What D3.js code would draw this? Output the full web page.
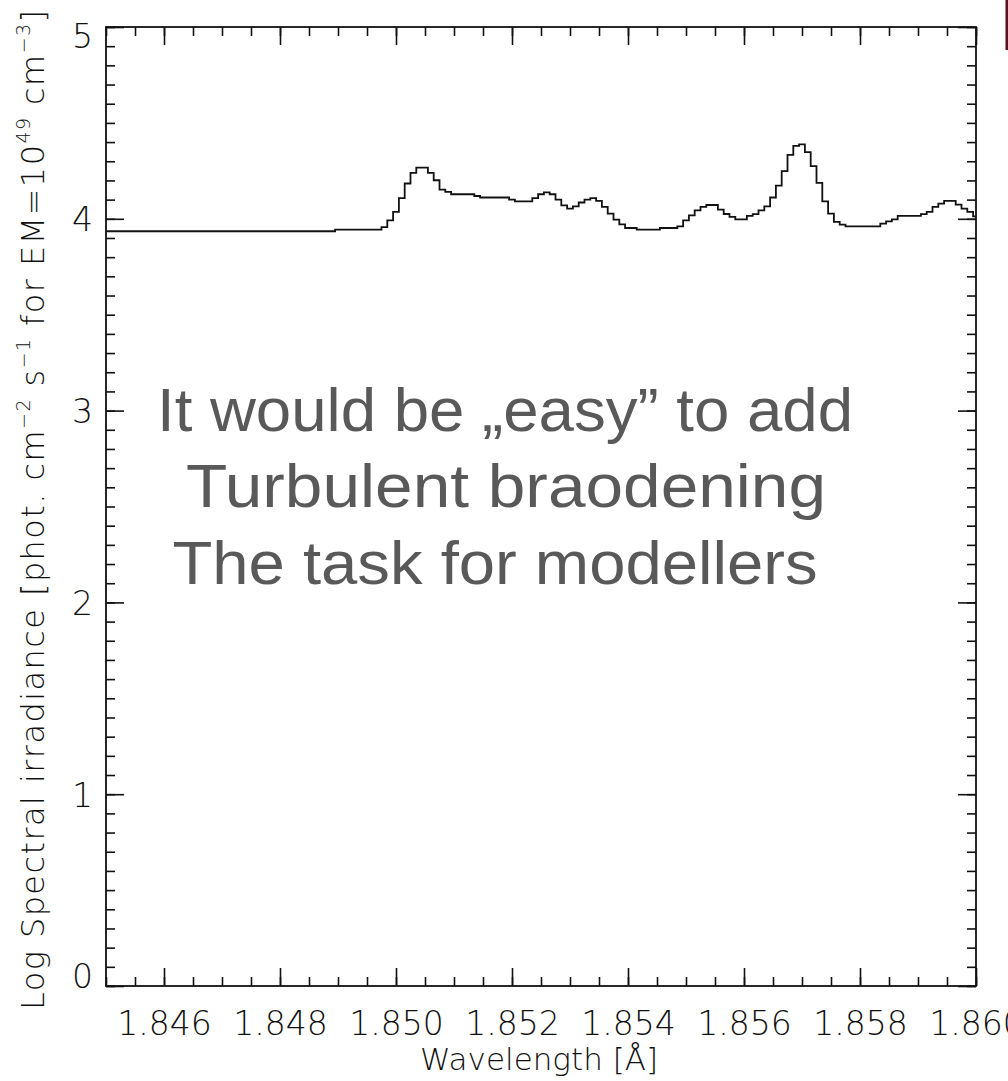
<!DOCTYPE html>
<html>
<head>
<meta charset="utf-8">
<script src="https://cdn.jsdelivr.net/npm/d3@7"></script>
<style>
  html, body { margin: 0; padding: 0; background: #fff; overflow: hidden; }
  .ax text { font-family: "DejaVu Sans", sans-serif; font-weight: 200; fill: #111; }
</style>
</head>
<body>
<div id="container"></div>
<script>
/* CONSTANTS AND GLOBALS */
const width = 1008,
  height = 1081,
  margin = { top: 27, right: 32, bottom: 95, left: 106 };

/* DATA: step spectrum, wavelength where each level starts [Å] and log irradiance */
const wavelength = [
  1.84500, 1.84895, 1.84975, 1.84985, 1.84995, 1.85005, 1.85015, 1.85025, 1.85035, 1.85055,
  1.85065, 1.85075, 1.85085, 1.85095, 1.85135, 1.85145, 1.85195, 1.85205, 1.85235, 1.85245,
  1.85255, 1.85265, 1.85275, 1.85285, 1.85295, 1.85305, 1.85315, 1.85325, 1.85335, 1.85345,
  1.85355, 1.85365, 1.85375, 1.85385, 1.85395, 1.85415, 1.85455, 1.85485, 1.85495, 1.85505,
  1.85515, 1.85525, 1.85535, 1.85555, 1.85565, 1.85575, 1.85585, 1.85605, 1.85615, 1.85625,
  1.85635, 1.85645, 1.85655, 1.85665, 1.85675, 1.85685, 1.85695, 1.85705, 1.85715, 1.85725,
  1.85735, 1.85745, 1.85755, 1.85765, 1.85775, 1.85835, 1.85845, 1.85855, 1.85865, 1.85905,
  1.85915, 1.85925, 1.85935, 1.85945, 1.85965, 1.85975, 1.85985, 1.85995
];
const logIrradiance = [
  3.935, 3.944, 3.957, 3.992, 4.036, 4.108, 4.184, 4.239, 4.267, 4.239,
  4.201, 4.152, 4.140, 4.128, 4.119, 4.111, 4.100, 4.091, 4.108, 4.128,
  4.138, 4.128, 4.100, 4.070, 4.053, 4.065, 4.085, 4.100, 4.108, 4.093,
  4.062, 4.027, 3.996, 3.971, 3.952, 3.944, 3.952, 3.960, 3.992, 4.018,
  4.044, 4.062, 4.072, 4.048, 4.025, 4.010, 3.997, 4.015, 4.024, 4.044,
  4.065, 4.111, 4.173, 4.249, 4.333, 4.380, 4.388, 4.348, 4.275, 4.187,
  4.091, 4.027, 3.984, 3.970, 3.961, 3.975, 3.987, 3.997, 4.015, 4.024,
  4.036, 4.062, 4.079, 4.093, 4.074, 4.053, 4.036, 4.013
];
const xDomain = [1.845, 1.860];
const yDomain = [0, 5];
const xMajorTicks = [1.846, 1.848, 1.850, 1.852, 1.854, 1.856, 1.858, 1.860];
const yMajorTicks = [0, 1, 2, 3, 4, 5];
const noteLines = ["It would be \u201Eeasy\u201D to add", "Turbulent braodening", "The task for modellers"];

const svg = d3.select("#container")
  .append("svg")
  .attr("width", width)
  .attr("height", height);

/* SCALES */
const xScale = d3.scaleLinear()
  .domain(xDomain)
  .range([margin.left, width - margin.right]);
const yScale = d3.scaleLinear()
  .domain(yDomain)
  .range([height - margin.bottom, margin.top]);

const x0 = xScale.range()[0], x1 = xScale.range()[1];
const y0 = yScale.range()[0], y1 = yScale.range()[1];

const xMinor = d3.range(0, 31).map(i => 1.845 + i * 0.0005);
const yMinor = d3.range(0, 51).map(i => i * 0.1);

/* AXES: ticks on all four sides, pointing inward */
const addAxis = (axis, tr, cls) => svg.append("g")
  .attr("class", "ax " + cls)
  .attr("transform", tr)
  .call(axis)
  .call(g => g.select(".domain").remove())
  .call(g => g.selectAll("line").attr("stroke", "#111").attr("stroke-width", 1.6));

addAxis(d3.axisBottom(xScale).tickValues(xMinor).tickSize(-9).tickFormat(""), `translate(0,${y0})`, "xb-minor");
addAxis(d3.axisTop(xScale).tickValues(xMinor).tickSize(-9).tickFormat(""), `translate(0,${y1})`, "xt-minor");
addAxis(d3.axisLeft(yScale).tickValues(yMinor).tickSize(-9).tickFormat(""), `translate(${x0},0)`, "yl-minor");
addAxis(d3.axisRight(yScale).tickValues(yMinor).tickSize(-9).tickFormat(""), `translate(${x1},0)`, "yr-minor");

const xb = addAxis(d3.axisBottom(xScale).tickValues(xMajorTicks).tickSize(-18).tickPadding(22)
  .tickFormat(d3.format(".3f")), `translate(0,${y0})`, "xb");
xb.selectAll("text").attr("font-size", 33).attr("dy", "0.71em")
  .attr("transform", "translate(0,4)");
addAxis(d3.axisTop(xScale).tickValues(xMajorTicks).tickSize(-18).tickFormat(""), `translate(0,${y1})`, "xt");

const yl = addAxis(d3.axisLeft(yScale).tickValues(yMajorTicks).tickSize(-18).tickPadding(13)
  .tickFormat(d3.format("d")), `translate(${x0},0)`, "yl");
yl.selectAll("text").attr("font-size", 33)
  .attr("dy", d => d === 5 ? "0.62em" : d === 0 ? "0.05em" : "0.36em");
addAxis(d3.axisRight(yScale).tickValues(yMajorTicks).tickSize(-18).tickFormat(""), `translate(${x1},0)`, "yr");

/* FRAME */
svg.append("rect")
  .attr("x", x0).attr("y", y1)
  .attr("width", x1 - x0).attr("height", y0 - y1)
  .attr("fill", "none").attr("stroke", "#111").attr("stroke-width", 1.8);

/* SPECTRUM (histogram steps) */
const pts = wavelength.map((w, i) => [w, logIrradiance[i]]);
pts.push([xDomain[1], logIrradiance[logIrradiance.length - 1]]);

svg.append("path")
  .datum(pts)
  .attr("fill", "none")
  .attr("stroke", "#111")
  .attr("stroke-width", 1.8)
  .attr("d", d3.line()
    .x(d => xScale(d[0]))
    .y(d => yScale(d[1]))
    .curve(d3.curveStepAfter));

/* AXIS TITLES */
svg.append("text")
  .attr("class", "ax")
  .attr("x", (x0 + x1) / 2 - 2)
  .attr("y", 1070)
  .attr("text-anchor", "middle")
  .attr("font-size", 31)
  .text("Wavelength [\u00C5]")
  .style("font-family", "DejaVu Sans, sans-serif")
  .style("font-weight", 200)
  .style("fill", "#111");

const yTitle = svg.append("text")
  .attr("transform", "translate(44,510) rotate(-90)")
  .attr("text-anchor", "middle")
  .attr("textLength", 1000)
  .attr("lengthAdjust", "spacing")
  .style("font-family", "DejaVu Sans, sans-serif")
  .style("font-weight", 200)
  .style("font-size", "32px")
  .style("fill", "#111");
const parts = [
  ["Log Spectral irradiance [phot. cm", 0], ["\u22122", 1], [" s", 0], ["\u22121", 1],
  [" for EM=10", 0], ["49", 1], [" cm", 0], ["\u22123", 1], ["]", 0]
];
let raised = false;
parts.forEach(([t, sup]) => {
  const ts = yTitle.append("tspan").text(t);
  if (sup && !raised) { ts.attr("dy", -14).style("font-size", "19px"); raised = true; }
  else if (sup) { ts.style("font-size", "19px"); }
  else if (raised) { ts.attr("dy", 14); raised = false; }
});

/* NOTE OVERLAY */
const noteWidths = [696, 640, 645];
const noteX = [505, 506, 495];
const noteY = [431, 507, 584];
svg.append("g")
  .selectAll("text")
  .data(noteLines)
  .join("text")
  .attr("x", (d, i) => noteX[i])
  .attr("y", (d, i) => noteY[i])
  .attr("text-anchor", "middle")
  .attr("textLength", (d, i) => noteWidths[i])
  .attr("lengthAdjust", "spacingAndGlyphs")
  .style("font-family", "Liberation Sans, Arial, sans-serif")
  .style("font-size", "62px")
  .style("fill", "#595959")
  .text(d => d);

/* slide edge mark */
svg.append("rect")
  .attr("x", 1005.5).attr("y", 0).attr("width", 2.5).attr("height", 50)
  .attr("fill", "#5a0f1c");
</script>
</body>
</html>
